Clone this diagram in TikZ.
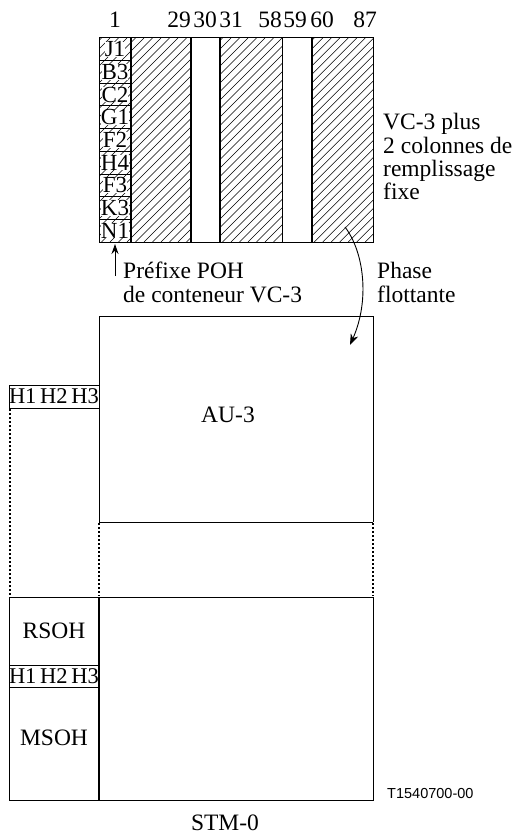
\documentclass[tikz,border=0pt]{standalone}
\usepackage{fontspec}
\setmainfont{Liberation Serif}
\setsansfont{Liberation Sans}
\usetikzlibrary{arrows.meta}
\begin{document}
\begin{tikzpicture}[x=1pt,y=-1pt,
  txt/.style={font=\fontsize{23.5}{23.5}\selectfont, inner sep=0pt},
  ln/.style={line width=1pt},
  heavy/.style={line width=1.6pt},
  dots/.style={line width=2pt, dash pattern=on 2pt off 2pt},
  hatchln/.style={line width=0.55pt},
  cell/.style={font=\fontsize{23}{23}\selectfont, fill=white, inner sep=0pt},
  arr/.style={line width=0.9pt, -{Stealth[length=11pt,width=8pt]}}]
\useasboundingbox (0,0) rectangle (517,834);

% ---------- hatching of the VC-3 ----------
\foreach \a/\b in {99/190.7, 220/282.3, 311.7/373}{
  \begin{scope}
    \clip (\a,38) rectangle (\b,242);
    \foreach \k in {0,...,40}
      \draw[hatchln] ({\a-210+\k*8.5},242) -- ++(204,-204);
  \end{scope}
}
% column labels
\foreach \t [count=\i from 0] in {J1,B3,C2,G1,F2,H4,F3,K3,N1}{
  \node[cell] (r\i) at (115,{38+(\i+0.5)*22.667}) {\t};
}
\foreach \i in {1,...,8}
  \draw[ln] (99,{38+\i*22.667}) -- (130.7,{38+\i*22.667});
\draw[ln] (99,38) rectangle (373,242);
\foreach \x in {130.7,190.7,220,282.3,311.7}
  \draw[heavy] (\x,38) -- (\x,242);

% column numbers
\node[txt, anchor=base] (n1)  at (115,28) {1};
\node[txt, anchor=base] (n29) at (179,28) {29};
\node[txt, anchor=base] (n30) at (205,28) {30};
\node[txt, anchor=base] (n31) at (231,28) {31};
\node[txt, anchor=base] (n58) at (270,28) {58};
\node[txt, anchor=base] (n59) at (295,28) {59};
\node[txt, anchor=base] (n60) at (322,28) {60};
\node[txt, anchor=base] (n87) at (365,28) {87};

% right text
\node[txt, anchor=base west] (v1) at (383,130) {VC-3 plus};
\node[txt, anchor=base west] (v2) at (383,153.3) {2 colonnes de};
\node[txt, anchor=base west] (v3) at (383,176.6) {remplissage};
\node[txt, anchor=base west] (v4) at (383,200) {fixe};

% prefix annotation
\coordinate (pa) at (115,276);
\coordinate (pb) at (115,244);
\draw[line width=0.9pt, -{Stealth[length=10pt,width=7pt]}] (pa) -- (pb);
\node[txt, anchor=base west] (p1) at (123,278) {Préfixe POH};
\node[txt, anchor=base west] (p2) at (123,302) {de conteneur VC-3};

% floating phase arrow
\coordinate (fa) at (345,227);
\coordinate (fb) at (350,345);
\draw[arr] (fa) .. controls (364,252) and (370,300) .. (fb);
\node[txt, anchor=base west] (f1) at (377,278) {Phase};
\node[txt, anchor=base west] (f2) at (377,302) {flottante};

% ---------- STM-0 frame ----------
% AU-3
\draw[ln] (99,522) -- (99,316) -- (373,316) -- (373,522);
\draw[ln] (99,522) -- (373,522);
\draw[dots] (99,523) -- (99,596);
\draw[dots] (373,523) -- (373,596);
\node[txt] (au3) at (228,415) {AU-3};

% upper left pointer column
\node[draw, line width=1pt, minimum width=90pt, minimum height=23pt, inner sep=0pt,
      font=\fontsize{22.5}{22.5}\selectfont] (hA) at (54,396.5) {H1\,H2\,H3};
\draw[dots] (9.5,409) -- (9.5,596);

% lower section
\draw[ln] (9,597) -- (373,597);
\draw[ln] (9,597) rectangle (373,800);
\draw[heavy] (99,597) -- (99,800);
\node[draw, line width=1pt, minimum width=90pt, minimum height=22pt, inner sep=0pt,
      font=\fontsize{22.5}{22.5}\selectfont] (hB) at (54,676) {H1\,H2\,H3};
\node[txt] (rsoh) at (54,631) {RSOH};
\node[txt] (msoh) at (54,737.5) {MSOH};

\node[font=\sffamily\fontsize{14.5}{14.5}\selectfont, inner sep=0pt, anchor=base west] (tid) at (387,798) {T1540700-00};
\node[txt, anchor=base] (stm) at (225,830) {STM-0};
\end{tikzpicture}
\end{document}
